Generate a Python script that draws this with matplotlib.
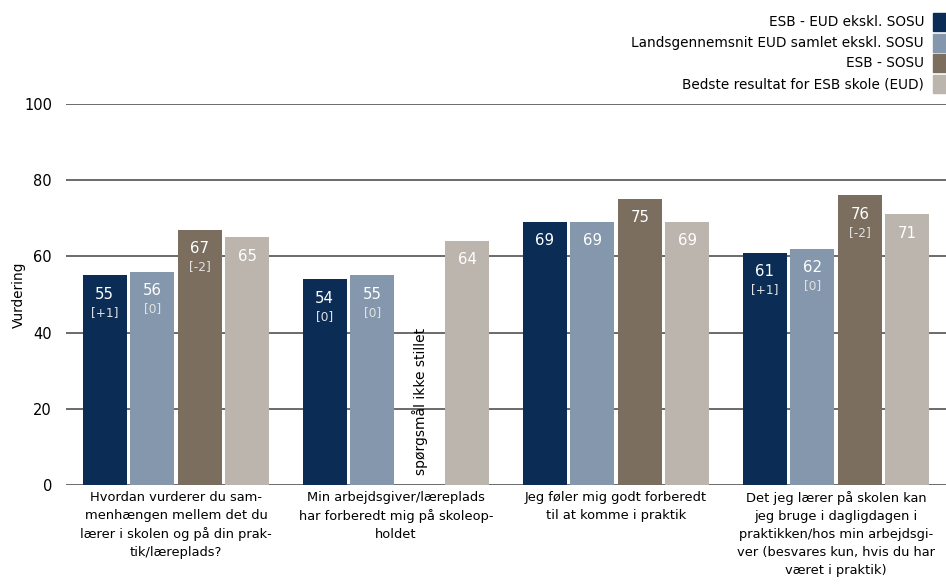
import matplotlib.pyplot as plt
from matplotlib.patches import Rectangle
import numpy as np

plt.rcParams['font.family'] = ['DejaVu Sans']

categories = [
    "Hvordan vurderer du sam-\nmenhængen mellem det du\nlærer i skolen og på din prak-\ntik/læreplads?",
    "Min arbejdsgiver/læreplads\nhar forberedt mig på skoleop-\nholdet",
    "Jeg føler mig godt forberedt\ntil at komme i praktik",
    "Det jeg lærer på skolen kan\njeg bruge i dagligdagen i\npraktikken/hos min arbejdsgi-\nver (besvares kun, hvis du har\nværet i praktik)",
]
series = ["ESB - EUD ekskl. SOSU", "Landsgennemsnit EUD samlet ekskl. SOSU",
          "ESB - SOSU", "Bedste resultat for ESB skole (EUD)"]
esb_eud = [55, 54, 69, 61]
lands = [56, 55, 69, 62]
esb_sosu = [67, None, 75, 76]
bedste = [65, 64, 69, 71]
values = [esb_eud, lands, esb_sosu, bedste]
changes = [["+1", "0", None, "+1"],
           ["0", "0", None, "0"],
           ["-2", None, None, "-2"],
           [None, None, None, None]]
colors = ["#0b2d55", "#8497ac", "#7b6e5f", "#bcb5ae"]
missing_text = "spørgsmål ikke stillet"

W, H = 946, 586
fig = plt.figure(figsize=(W / 100, H / 100), dpi=100)
ax = fig.add_axes([66 / W, 1 - 485 / H, 880 / W, 381 / H])

x = np.arange(len(categories))
w = 0.2
step = 0.216
for i, (vals, col) in enumerate(zip(values, colors)):
    off = (i - 1.5) * step
    for j, v in enumerate(vals):
        xp = x[j] + off
        if v is None:
            ax.text(xp, 2.5, missing_text, rotation=90, ha='center', va='bottom',
                    fontsize=10, color='black')
            continue
        ax.bar(xp, v, width=w, color=col, zorder=3)
        ax.annotate(str(v), (xp, v), xytext=(0, -13.5), textcoords='offset points',
                    ha='center', va='center', color='white', fontsize=10.8, zorder=4)
        c = changes[i][j]
        if c is not None:
            ax.annotate("[" + c + "]", (xp, v), xytext=(0, -26.5), textcoords='offset points',
                        ha='center', va='center', color='#e2e2e2', fontsize=8.7, zorder=4)

ax.set_xlim(-0.5, 3.5)
ax.set_ylim(0, 100)
ax.set_yticks(range(0, 101, 20))
ax.yaxis.grid(True, color='#5f5f5f', linewidth=1.3, zorder=0)
ax.set_axisbelow(True)
for s in ax.spines.values():
    s.set_visible(False)
ax.tick_params(axis='y', length=0, pad=10, labelsize=10.5)
ax.tick_params(axis='x', length=0, pad=4, labelsize=9.4)
ax.set_xticks(x)
ax.set_xticklabels(categories, linespacing=1.5)
ax.set_ylabel("Vurdering", fontsize=9.8)
ax.yaxis.set_label_coords(-40 / 880, 0.5)

# legend, drawn by hand so the text is right aligned next to the swatches
for i, (lab, col) in enumerate(zip(series, colors)):
    yc = 22 + 20.7 * i
    fig.patches.append(Rectangle((933 / W, 1 - (yc + 9) / H), 13 / W, 18 / H,
                                 color=col, transform=fig.transFigure, figure=fig))
    fig.text(924 / W, 1 - yc / H, lab, ha='right', va='center', fontsize=9.8)

fig.savefig("out.png", dpi=100)
